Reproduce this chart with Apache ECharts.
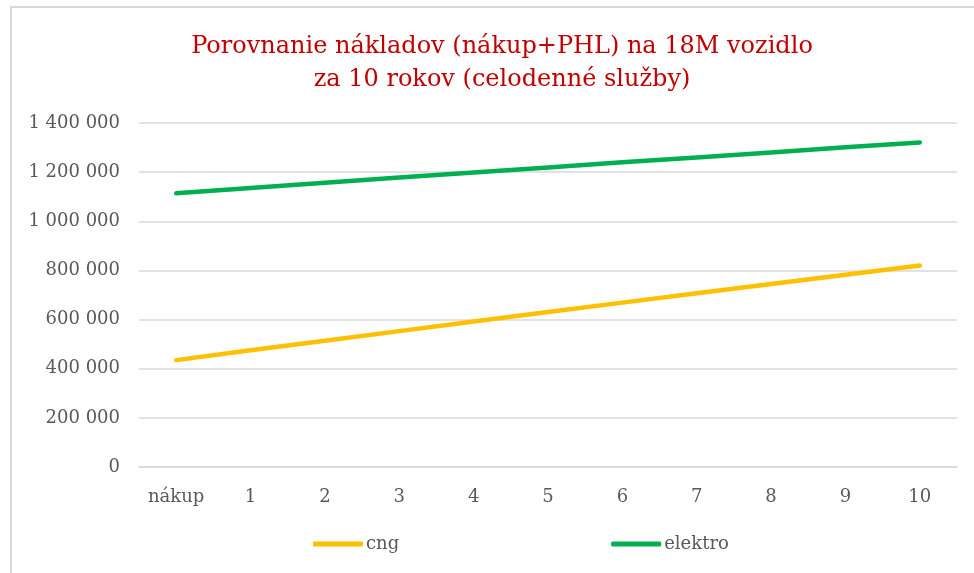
<!DOCTYPE html>
<html>
<head>
<meta charset="utf-8">
<script src="https://cdn.jsdelivr.net/npm/echarts@6/dist/echarts.min.js"></script>
<style>
    html, body { margin: 0; padding: 0; background: #fff; }
    #chart { width: 974px; height: 573px; }
</style>
</head>
<body>
<div id="chart"></div>
<script>
// kategórie (roky)
const categories = ['nákup', '1', '2', '3', '4', '5', '6', '7', '8', '9', '10'];

// náklady v EUR
const cngValues = [435000, 475000, 514000, 553000, 592000, 631000, 669000, 707000, 745000, 782000, 820000];
const elektroValues = [1114000, 1135000, 1157000, 1178000, 1199000, 1219000, 1240000, 1260000, 1280000, 1301000, 1321000];

const yTicks = { min: 0, max: 1400000, interval: 200000 };

const font = '"DejaVu Serif", "Liberation Serif", serif';

function formatNum(v) {
    return String(v).replace(/\B(?=(\d{3})+(?!\d))/g, ' ');
}

const chart = echarts.init(document.getElementById('chart'));
chart.setOption({
    animation: false,
    backgroundColor: '#fff',
    graphic: [{
        type: 'rect',
        shape: { x: 11, y: 7, width: 1000, height: 600 },
        style: { fill: 'none', stroke: '#d9d9d9', lineWidth: 2 },
        silent: true
    }],
    title: {
        text: 'Porovnanie nákladov (nákup+PHL) na 18M vozidlo\nza 10 rokov (celodenné služby)',
        left: 497,
        top: 25,
        textAlign: 'center',
        textStyle: {
            color: '#c00000',
            fontFamily: font,
            fontWeight: 'normal',
            fontSize: 24,
            lineHeight: 33
        }
    },
    legend: {
        top: 530,
        left: 308,
        itemGap: 212,
        itemWidth: 50,
        itemHeight: 5,
        icon: 'roundRect',
        textStyle: { color: '#595959', fontFamily: font, fontSize: 18, padding: [0, 0, 0, -2] },
        data: ['cng', 'elektro']
    },
    grid: { left: 139, right: 17, top: 123, bottom: 106 },
    xAxis: {
        type: 'category',
        data: categories,
        boundaryGap: true,
        axisLine: { show: true, lineStyle: { color: '#d9d9d9', width: 1.5 } },
        axisTick: { show: false },
        axisLabel: { color: '#595959', fontFamily: font, fontSize: 18, margin: 21 }
    },
    yAxis: {
        type: 'value',
        min: yTicks.min,
        max: yTicks.max,
        interval: yTicks.interval,
        axisLine: { show: false },
        axisTick: { show: false },
        splitLine: { lineStyle: { color: '#d9d9d9', width: 1.5 } },
        axisLabel: {
            color: '#595959', fontFamily: font, fontSize: 18, margin: 19,
            formatter: formatNum
        }
    },
    series: [
        {
            name: 'cng',
            type: 'line',
            data: cngValues,
            showSymbol: false,
            symbol: 'none',
            itemStyle: { color: '#ffc000' },
            lineStyle: { color: '#ffc000', width: 4.5, cap: 'round', join: 'round' }
        },
        {
            name: 'elektro',
            type: 'line',
            data: elektroValues,
            showSymbol: false,
            symbol: 'none',
            itemStyle: { color: '#00b050' },
            lineStyle: { color: '#00b050', width: 4.5, cap: 'round', join: 'round' }
        }
    ]
});
</script>
</body>
</html>
